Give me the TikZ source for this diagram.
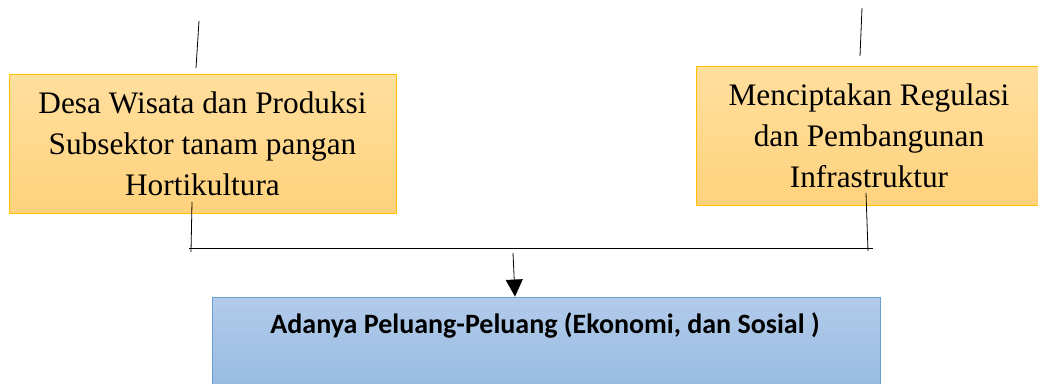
\documentclass[tikz,border=0pt]{standalone}
\usepackage{fontspec}
\setmainfont{Liberation Serif}
\newfontfamily\boxsans{Carlito}
\usetikzlibrary{arrows.meta}
\definecolor{orTop}{HTML}{FFDF9E}
\definecolor{orBot}{HTML}{FFD27C}
\definecolor{orEdge}{HTML}{FFC000}
\definecolor{blTop}{HTML}{B2CBE9}
\definecolor{blBot}{HTML}{97BAE2}
\definecolor{blEdge}{HTML}{6A9CD6}
\tikzset{
  orbox/.style={draw=orEdge, line width=0.9pt, top color=orTop, bottom color=orBot,
    align=center, inner sep=0pt, font=\fontsize{31.3}{41}\selectfont},
  blbox/.style={draw=blEdge, line width=0.9pt, top color=blTop, bottom color=blBot, inner sep=0pt},
  conn/.style={line width=0.8pt, black},
  arr/.style={line width=0.8pt, black, -{Triangle[length=17pt,width=17pt]}},
}
\begin{document}
\begin{tikzpicture}[x=1pt,y=-1pt]
\useasboundingbox (0,0) rectangle (1038,383);
% boxes
\node[orbox, minimum width=387pt, minimum height=139pt] (left) at (202.5,143.5) {Desa Wisata dan Produksi\\Subsektor tanam pangan\\Hortikultura};
\node[orbox, minimum width=346pt, minimum height=139pt] (right) at (869,136) {Menciptakan Regulasi\\dan Pembangunan\\Infrastruktur};
\node[blbox, minimum width=668pt, minimum height=92pt] (out) at (546,343) {};
\node[font=\boxsans\bfseries\fontsize{28}{32}\selectfont, inner sep=0pt, anchor=base] (outtext) at (545,333) {Adanya Peluang-Peluang (Ekonomi, dan Sosial )};
% free line ends
\coordinate (lt1) at (199,21);
\coordinate (lt2) at (196,68);
\coordinate (rt1) at (862,8);
\coordinate (rt2) at (860,56);
\coordinate (ld1) at (192,202);
\coordinate (ld2) at (191,252);
\coordinate (rd1) at (866,193);
\coordinate (rd2) at (868,251);
\coordinate (hl) at (189,248);
\coordinate (hr) at (873,248);
\coordinate (a1) at (513,253);
\coordinate (a2) at (515,296);
% connectors
\draw[conn] (lt1) -- (lt2);
\draw[conn] (rt1) -- (rt2);
\draw[conn] (ld1) -- (ld2);
\draw[conn] (rd1) -- (rd2);
\draw[conn] (hl) -- (hr);
\draw[arr] (a1) -- (a2 |- out.north);
\end{tikzpicture}
\end{document}
